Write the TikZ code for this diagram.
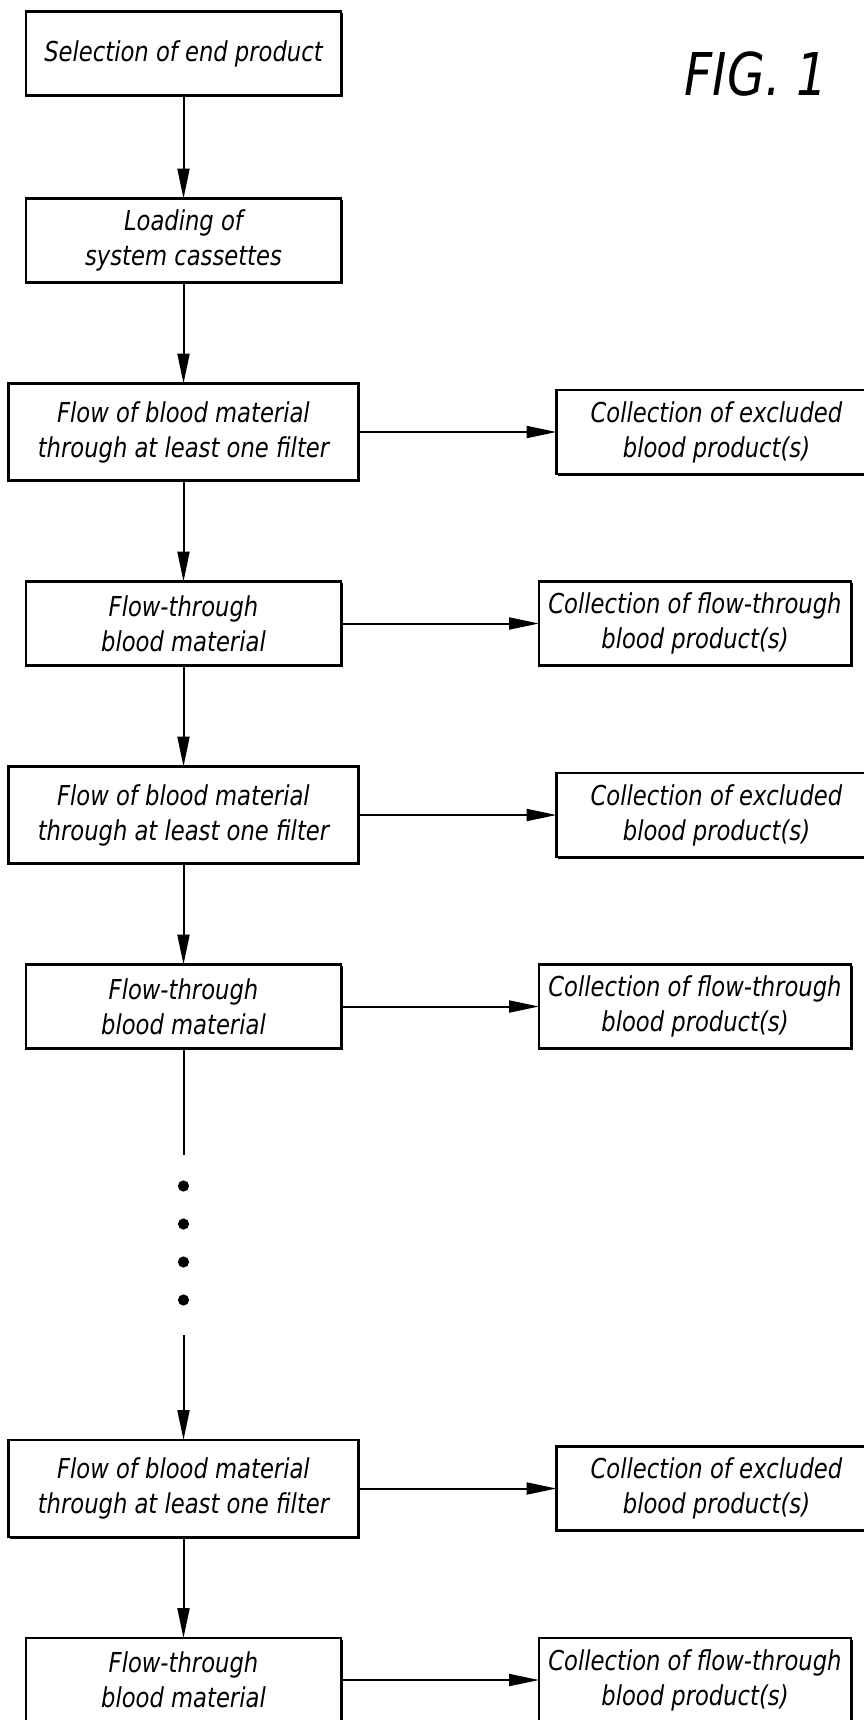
\documentclass[tikz,border=0pt]{standalone}
\usepackage{fontspec}
\setmainfont{DejaVu Sans Condensed}[FakeStretch=0.92]
\usetikzlibrary{arrows.meta,positioning,shadows}

\begin{document}
\begin{tikzpicture}[
  x=0.5pt, y=-0.5pt,
  node distance=50.5pt and 99pt,
  font=\fontsize{13.7}{17.5}\selectfont\itshape,
  box/.style={draw, line width=1.2pt, align=center, inner sep=2pt, outer sep=0pt,
              minimum width=157.5pt, minimum height=42pt, fill=white,
              drop shadow={shadow xshift=0.9pt, shadow yshift=-0.9pt,
                           fill=black, opacity=1}},
  filterbox/.style={box, minimum width=175pt, minimum height=48.5pt},
  collectbox/.style={box, minimum width=156pt},
  dot/.style={circle, fill, inner sep=0pt, minimum size=5.6pt},
  arrow/.style={-{Triangle[length=15pt, width=6pt]}, line width=1pt}
]
\useasboundingbox (0,0) rectangle (863,1720);

\node[font=\fontsize{29.5}{30}\selectfont\itshape] (fig) at (756,74.5) {FIG. 1};

\node[box] (select) at (183.5,53.5) {Selection of end product};
\node[box, below=51.5pt of select] (load) {Loading of\\system cassettes};
\node[filterbox, below=of load] (filterA) {Flow of blood material\\through at least one filter};
\node[box, below=of filterA] (throughA) {Flow-through\\blood material};
\node[filterbox, below=of throughA] (filterB) {Flow of blood material\\through at least one filter};
\node[box, below=of filterB] (throughB) {Flow-through\\blood material};
\node[filterbox, below=195.75pt of throughB] (filterC) {Flow of blood material\\through at least one filter};
\node[box, below=of filterC] (throughC) {Flow-through\\blood material};

\node[collectbox, minimum width=160pt, right=of filterA] (excludedA) {Collection of excluded\\blood product(s)};
\node[collectbox, right=of throughA] (keptA) {Collection of flow-through\\blood product(s)};
\node[collectbox, minimum width=160pt, right=of filterB] (excludedB) {Collection of excluded\\blood product(s)};
\node[collectbox, right=of throughB] (keptB) {Collection of flow-through\\blood product(s)};
\node[collectbox, minimum width=160pt, right=of filterC] (excludedC) {Collection of excluded\\blood product(s)};
\node[collectbox, right=of throughC] (keptC) {Collection of flow-through\\blood product(s)};

% broken line with the dots
\coordinate[below=53.25pt of throughB] (gaptop);
\coordinate[above=52.5pt of filterC] (gapend);
\foreach \y [count=\i] in {1186,1224,1262,1300}
  \node[dot] (dot\i) at (183.5,\y) {};

\draw[arrow] (select) -- (load);
\draw[arrow] (load) -- (filterA);
\draw[arrow] (filterA) -- (throughA);
\draw[arrow] (throughA) -- (filterB);
\draw[arrow] (filterB) -- (throughB);
\draw[line width=1pt] (throughB) -- (gaptop);
\draw[arrow] (gapend) -- (filterC);
\draw[arrow] (filterC) -- (throughC);
\draw[arrow] (filterA) -- (excludedA);
\draw[arrow] (throughA) -- (keptA);
\draw[arrow] (filterB) -- (excludedB);
\draw[arrow] (throughB) -- (keptB);
\draw[arrow] (filterC) -- (excludedC);
\draw[arrow] (throughC) -- (keptC);
\end{tikzpicture}
\end{document}
